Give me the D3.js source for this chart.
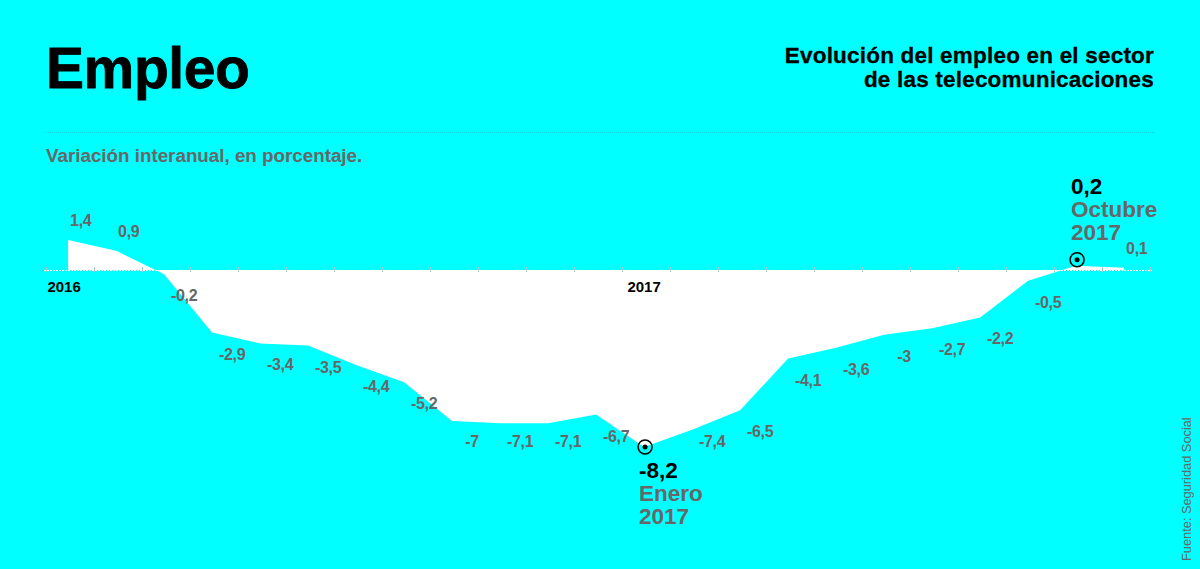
<!DOCTYPE html>
<html>
<head>
<meta charset="utf-8">
<script src="https://cdn.jsdelivr.net/npm/d3@7"></script>
<style>
  body { margin: 0; background: #00ffff; }
  svg { display: block; font-family: "Liberation Sans", Arial, sans-serif; font-weight: bold; }
  .lbl { fill: #676767; font-size: 16px; }
  .yr { fill: #000; font-size: 15px; }
</style>
</head>
<body>
<div id="vis"></div>
<script>
// monthly year-on-year change, Jan 2016 .. Nov 2017
var months = ["Ene 2016","Feb 2016","Mar 2016","Abr 2016","May 2016","Jun 2016","Jul 2016","Ago 2016","Sep 2016","Oct 2016","Nov 2016","Dic 2016",
              "Ene 2017","Feb 2017","Mar 2017","Abr 2017","May 2017","Jun 2017","Jul 2017","Ago 2017","Sep 2017","Oct 2017","Nov 2017"];
var values = [1.4, 0.9, -0.2, -2.9, -3.4, -3.5, -4.4, -5.2, -7, -7.1, -7.1, -6.7,
              -8.2, -7.4, -6.5, -4.1, -3.6, -3, -2.7, -2.2, -0.5, 0.2, 0.1];
var yearLabels = ["2016", "2017"];
var highlights = [{i: 12, month: "Enero", year: "2017"}, {i: 21, month: "Octubre", year: "2017"}];

var w = 1200, h = 569;

var svg = d3.select("#vis").append("svg")
    .attr("width", w)
    .attr("height", h);

// month index scale: tick at start of month, point in mid month
var x = d3.scaleLinear().domain([0, 24]).range([46, 1198]);
var y = d3.scaleLinear().domain([-8.2, 0, 1.4]).range([447, 270, 240]);
var px = function(i) { return x(i + 0.46); };
var fmt = function(v) { return String(v).replace(".", ","); };

// headers
svg.append("text")
    .attr("x", 46).attr("y", 88)
    .attr("font-size", 57)
    .attr("letter-spacing", -0.4)
    .attr("stroke", "#000")
    .attr("stroke-width", 0.8)
    .text("Empleo");

svg.append("text")
    .attr("text-anchor", "end")
    .attr("font-size", 22.5)
    .attr("letter-spacing", 0.2)
    .attr("stroke", "#000")
    .attr("stroke-width", 0.3)
    .selectAll("tspan")
    .data(["Evolución del empleo en el sector", "de las telecomunicaciones"])
    .enter().append("tspan")
    .attr("x", 1154)
    .attr("y", function(d, i) { return 63 + i * 24; })
    .text(String);

svg.append("line")
    .attr("x1", 46).attr("x2", 1155)
    .attr("y1", 132.5).attr("y2", 132.5)
    .attr("stroke", "#00dcdc")
    .attr("stroke-dasharray", "1,1");

svg.append("text")
    .attr("x", 46).attr("y", 162)
    .attr("font-size", 18.8)
    .attr("fill", "#676767")
    .text("Variación interanual, en porcentaje.");

// area
var area = d3.area()
    .x(function(d, i) { return px(i); })
    .y0(y(0))
    .y1(function(d) { return y(d); });

svg.append("path")
    .datum(values)
    .attr("fill", "#fff")
    .attr("d", area);

// baseline + monthly ticks
svg.append("line")
    .attr("x1", 44).attr("x2", 1152)
    .attr("y1", y(0) + 0.5).attr("y2", y(0) + 0.5)
    .attr("stroke", "#fff")
    .attr("stroke-dasharray", "2,1");

svg.selectAll(".tick")
    .data(d3.range(0, 24))
    .enter().append("line")
    .attr("class", "tick")
    .attr("x1", function(d) { return Math.round(x(d)) + 0.5; })
    .attr("x2", function(d) { return Math.round(x(d)) + 0.5; })
    .attr("y1", y(0) - 3)
    .attr("y2", y(0) + 2)
    .attr("stroke", "#a9c4c4");

svg.selectAll(".yr")
    .data(yearLabels)
    .enter().append("text")
    .attr("class", "yr")
    .attr("text-anchor", "middle")
    .attr("x", function(d, i) { return px(i * 12) - (i ? 0 : 4); })
    .attr("y", 292)
    .text(String);

// value labels
var hiIdx = highlights.map(function(d) { return d.i; });
var floorY = y(-7) + 26;
svg.selectAll(".lbl")
    .data(values.map(function(v, i) { return {v: v, i: i}; })
        .filter(function(d) { return hiIdx.indexOf(d.i) < 0; }))
    .enter().append("text")
    .attr("class", "lbl")
    .attr("letter-spacing", -0.3)
    .attr("text-anchor", function(d) { return d.v >= 0 ? "start" : "middle"; })
    .attr("x", function(d) { return d.v >= 0 ? px(d.i) + 2 : px(d.i) + 20; })
    .attr("y", function(d) {
        if (d.v >= 0) return y(d.v) - 14;
        return Math.min(y(d.v) + 27, floorY);
    })
    .text(function(d) { return fmt(d.v); });

// highlighted points
var hi = svg.selectAll(".hi")
    .data(highlights)
    .enter().append("g")
    .attr("class", "hi");

var cy = function(d) { return values[d.i] < 0 ? y(values[d.i]) : y(values[d.i]) - 6; };

hi.append("circle")
    .attr("cx", function(d) { return px(d.i) + 1; })
    .attr("cy", cy)
    .attr("r", 7)
    .attr("fill", "none")
    .attr("stroke", "#000")
    .attr("stroke-width", 1.5);

hi.append("circle")
    .attr("cx", function(d) { return px(d.i) + 1; })
    .attr("cy", cy)
    .attr("r", 2.5)
    .attr("fill", "#000");

hi.append("text")
    .attr("font-size", 22.5)
    .each(function(d) {
        var t = d3.select(this),
            x0 = px(d.i) - 5,
            y0 = values[d.i] < 0 ? y(values[d.i]) + 31 : y(values[d.i]) - 72;
        [fmt(values[d.i]), d.month, d.year].forEach(function(s, k) {
            t.append("tspan")
                .attr("x", x0)
                .attr("y", y0 + k * 23)
                .attr("fill", k == 0 ? "#000" : "#676767")
                .text(s);
        });
    });

// source
svg.append("text")
    .attr("transform", "translate(1191,561) rotate(-90)")
    .attr("font-size", 12.8)
    .attr("font-weight", "normal")
    .attr("fill", "#676767")
    .text("Fuente: Seguridad Social");
</script>
</body>
</html>
